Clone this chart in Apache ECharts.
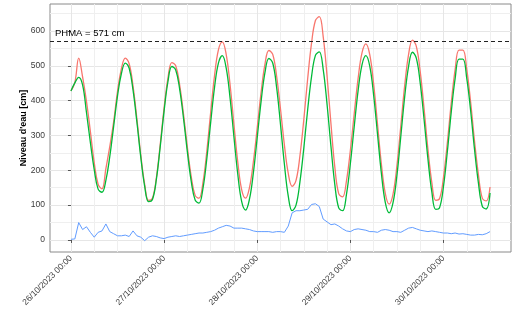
<!DOCTYPE html>
<html>
<head>
    <meta charset="utf-8">
    <title>Niveau d'eau</title>
    <script src="https://cdn.jsdelivr.net/npm/echarts@6/dist/echarts.min.js"></script>
    <style>
        html, body { margin: 0; padding: 0; background: #fff; }
        #chart { width: 520px; height: 311px; }
    </style>
</head>
<body>
<div id="chart"></div>
<script type="text/javascript">
    // one value per hour, starting 26/10/2023 00:00
    var startDay = 26;
    var phma = 571;
    var xTicks = [0, 1, 2, 3, 4];
    var yTicks = [0, 100, 200, 300, 400, 500, 600];

    // observed level (red)
    var observed = [
        428, 452, 522, 468, 398, 312, 222, 160, 147, 205, 268, 339, 427, 492, 522, 506, 442, 347, 244, 160,
        114, 120, 178, 274, 379, 465, 509, 500, 446, 362, 266, 182, 128, 120, 164, 254, 366, 472, 546, 569,
        533, 446, 332, 223, 144, 120, 150, 224, 322, 424, 505, 544, 533, 470, 376, 273, 191, 154, 171, 241,
        345, 463, 565, 630, 641, 584, 470, 334, 209, 133, 124, 170, 257, 363, 464, 537, 563, 532, 448, 333,
        218, 134, 103, 132, 213, 327, 443, 532, 574, 556, 484, 377, 260, 165, 114, 119, 180, 280, 393, 489,
        545, 545, 490, 396, 284, 188, 120, 112, 152
    ];
    // predicted tide (green)
    var predicted = [
        428, 451, 467, 445, 366, 280, 202, 146, 137, 171, 239, 326, 414, 478, 508, 493, 430, 338, 237, 154,
        110, 116, 173, 267, 370, 455, 498, 488, 434, 350, 253, 168, 115, 106, 147, 232, 337, 438, 508, 529,
        494, 408, 296, 188, 110, 86, 117, 192, 294, 398, 481, 521, 508, 438, 332, 218, 126, 84, 100, 166,
        263, 374, 469, 530, 540, 490, 389, 269, 159, 92, 84, 131, 219, 326, 429, 503, 529, 499, 416, 304,
        191, 108, 78, 107, 185, 297, 411, 498, 539, 522, 451, 346, 232, 138, 88, 93, 154, 254, 367, 463,
        519, 519, 464, 371, 260, 164, 97, 89, 135
    ];
    // surge (blue)
    var surge = [
        2, 3, 50, 30, 38, 22, 8, 22, 26, 46, 24, 18, 12, 12, 14, 10, 26, 12, 8, -2,
        8, 12, 10, 6, 4, 8, 10, 12, 10, 12, 14, 16, 18, 20, 20, 22, 24, 28, 34, 38,
        42, 40, 34, 34, 34, 32, 30, 26, 24, 24, 24, 24, 22, 24, 24, 22, 40, 78, 84, 84,
        86, 88, 102, 104, 96, 60, 52, 44, 46, 40, 32, 26, 24, 30, 32, 30, 28, 24, 24, 22,
        28, 30, 28, 24, 24, 22, 28, 34, 36, 32, 28, 26, 24, 26, 24, 22, 20, 20, 18, 20,
        17, 18, 16, 14, 14, 16, 15, 18, 24
    ];

    function toPoints(values) {
        var pts = [];
        for (var i = 0; i < values.length; i++) {
            pts.push([i / 24, values[i]]);
        }
        return pts;
    }

    var chart = echarts.init(document.getElementById('chart'), null, { renderer: 'canvas' });
    var font = 'Liberation Sans, Arial, sans-serif';
    var option = {
        animation: false,
        backgroundColor: '#ffffff',
        grid: {
            left: 50, right: 9, top: 4, bottom: 59,
            show: true, borderColor: '#8a8a8a', borderWidth: 1, backgroundColor: '#ffffff'
        },
        xAxis: {
            type: 'value',
            min: -0.225,
            max: 4.725,
            splitNumber: 5,
            axisLine: { show: false },
            axisTick: { show: true, length: 3, lineStyle: { color: '#555' }, customValues: xTicks },
            axisLabel: {
                customValues: xTicks,
                rotate: 45,
                margin: 5,
                fontSize: 8.5,
                fontFamily: font,
                color: '#3a3a3a',
                formatter: function (v) {
                    return (startDay + Math.round(v)) + '/10/2023 00:00';
                }
            },
            splitLine: { show: true, lineStyle: { color: '#e6e6e6', width: 1 } },
            minorTick: { show: false, splitNumber: 4 },
            minorSplitLine: { show: true, lineStyle: { color: '#efefef', width: 1 } }
        },
        yAxis: {
            type: 'value',
            min: -34.5,
            max: 677.5,
            splitNumber: 7,
            name: "Niveau d'eau [cm]",
            nameLocation: 'middle',
            nameGap: 22,
            nameMoveOverlap: false,
            nameTextStyle: { fontSize: 9, fontWeight: 'bold', color: '#000', fontFamily: font },
            axisLine: { show: false },
            axisTick: { show: true, length: 3, lineStyle: { color: '#555' }, customValues: yTicks },
            axisLabel: {
                customValues: yTicks,
                margin: 5,
                fontSize: 8.5,
                fontFamily: font,
                color: '#3a3a3a'
            },
            splitLine: { show: true, lineStyle: { color: '#e6e6e6', width: 1 } },
            minorTick: { show: false, splitNumber: 2 },
            minorSplitLine: { show: true, lineStyle: { color: '#efefef', width: 1 } }
        },
        series: [
            {
                name: 'Observé',
                type: 'line',
                data: toPoints(observed),
                showSymbol: false,
                smooth: 0.4,
                lineStyle: { color: '#F8766D', width: 1.3 },
                itemStyle: { color: '#F8766D' },
                markLine: {
                    silent: true,
                    symbol: 'none',
                    data: [{ yAxis: phma }],
                    lineStyle: { color: '#222', type: [4, 3], width: 1 },
                    label: {
                        show: true,
                        position: 'insideStartTop',
                        formatter: 'PHMA = ' + phma + ' cm',
                        color: '#000',
                        fontSize: 9.5,
                        fontFamily: font,
                        distance: [5, 3]
                    }
                }
            },
            {
                name: 'Prédit',
                type: 'line',
                data: toPoints(predicted),
                showSymbol: false,
                smooth: 0.4,
                lineStyle: { color: '#00BA38', width: 1.3 },
                itemStyle: { color: '#00BA38' }
            },
            {
                name: 'Surcote',
                type: 'line',
                data: toPoints(surge),
                showSymbol: false,
                lineStyle: { color: '#619CFF', width: 1 },
                itemStyle: { color: '#619CFF' }
            }
        ]
    };
    chart.setOption(option);
</script>
</body>
</html>
